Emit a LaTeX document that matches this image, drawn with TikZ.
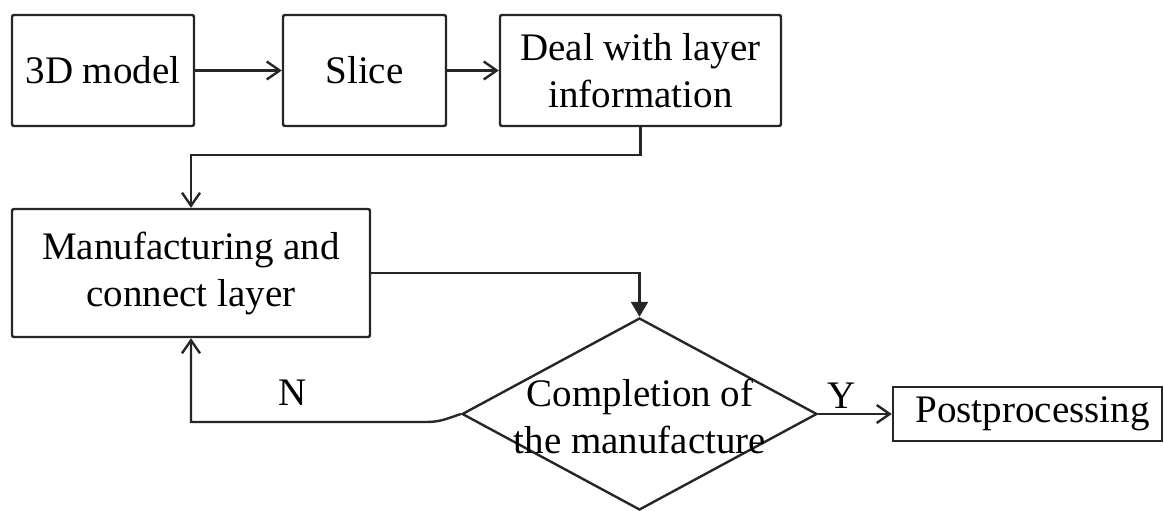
\documentclass[tikz,border=0pt]{standalone}
\usepackage{fontspec}
\setmainfont{Liberation Serif}
\usetikzlibrary{arrows.meta,shapes.geometric}
\begin{document}
\begin{tikzpicture}[x=1pt,y=-1pt,
  line width=2.4pt,
  every node/.style={font=\fontsize{39}{47}\selectfont, text=black},
  stepbox/.style={draw=black!85, rounded corners=2pt, align=center, inner sep=0pt},
  arr/.style={draw=black!85, -{Straight Barb[length=13pt,width=18pt,line width=2.4pt]}},
  arrfill/.style={draw=black!85, -{Triangle[length=15pt,width=17pt]}},
  lbl/.style={inner sep=0pt}
]
\useasboundingbox (0,0) rectangle (1164,511);

% process boxes
\node[stepbox, minimum width=182pt, minimum height=111pt] (m3d)   at (103,70.5)   {3D model};
\node[stepbox, minimum width=163pt, minimum height=111pt] (slice) at (364.5,70.5) {Slice};
\node[stepbox, minimum width=281pt, minimum height=111pt] (deal)  at (640.5,70.5) {Deal with layer\\information};
\node[stepbox, minimum width=358pt, minimum height=128pt] (manuf) at (191,273)    {Manufacturing and\\connect layer};
\node[stepbox, rounded corners=0pt, minimum width=269pt, minimum height=54pt] (post) at (1027.5,414) {\hspace*{10pt}Postprocessing};

% decision
\node[diamond, draw=black!85, minimum width=355pt, minimum height=192pt, inner sep=0pt] (dec) at (639.5,414) {};
\node[align=center, inner sep=0pt] (dectext) at (640,416) {Completion of\\the manufacture};

% connectors
\draw[arr] (m3d.east) -- (slice.west);
\draw[arr] (slice.east) -- (deal.west);
\draw[arr] (deal.south) -- ++(0,28) -| (manuf.north);
\draw[arrfill] (manuf.east) -| (dec.north);
\coordinate (nturn) at (191,422);
\draw[arr] (dec.west) .. controls (446,419) and (440,422) .. (426,422) -- (nturn) -- (manuf.south);
\draw[arr] (dec.east) -- (post.west);

% branch labels
\node[lbl] (nlab) at (293,393) {N};
\node[lbl] (ylab) at (842,396) {Y};
\end{tikzpicture}
\end{document}
